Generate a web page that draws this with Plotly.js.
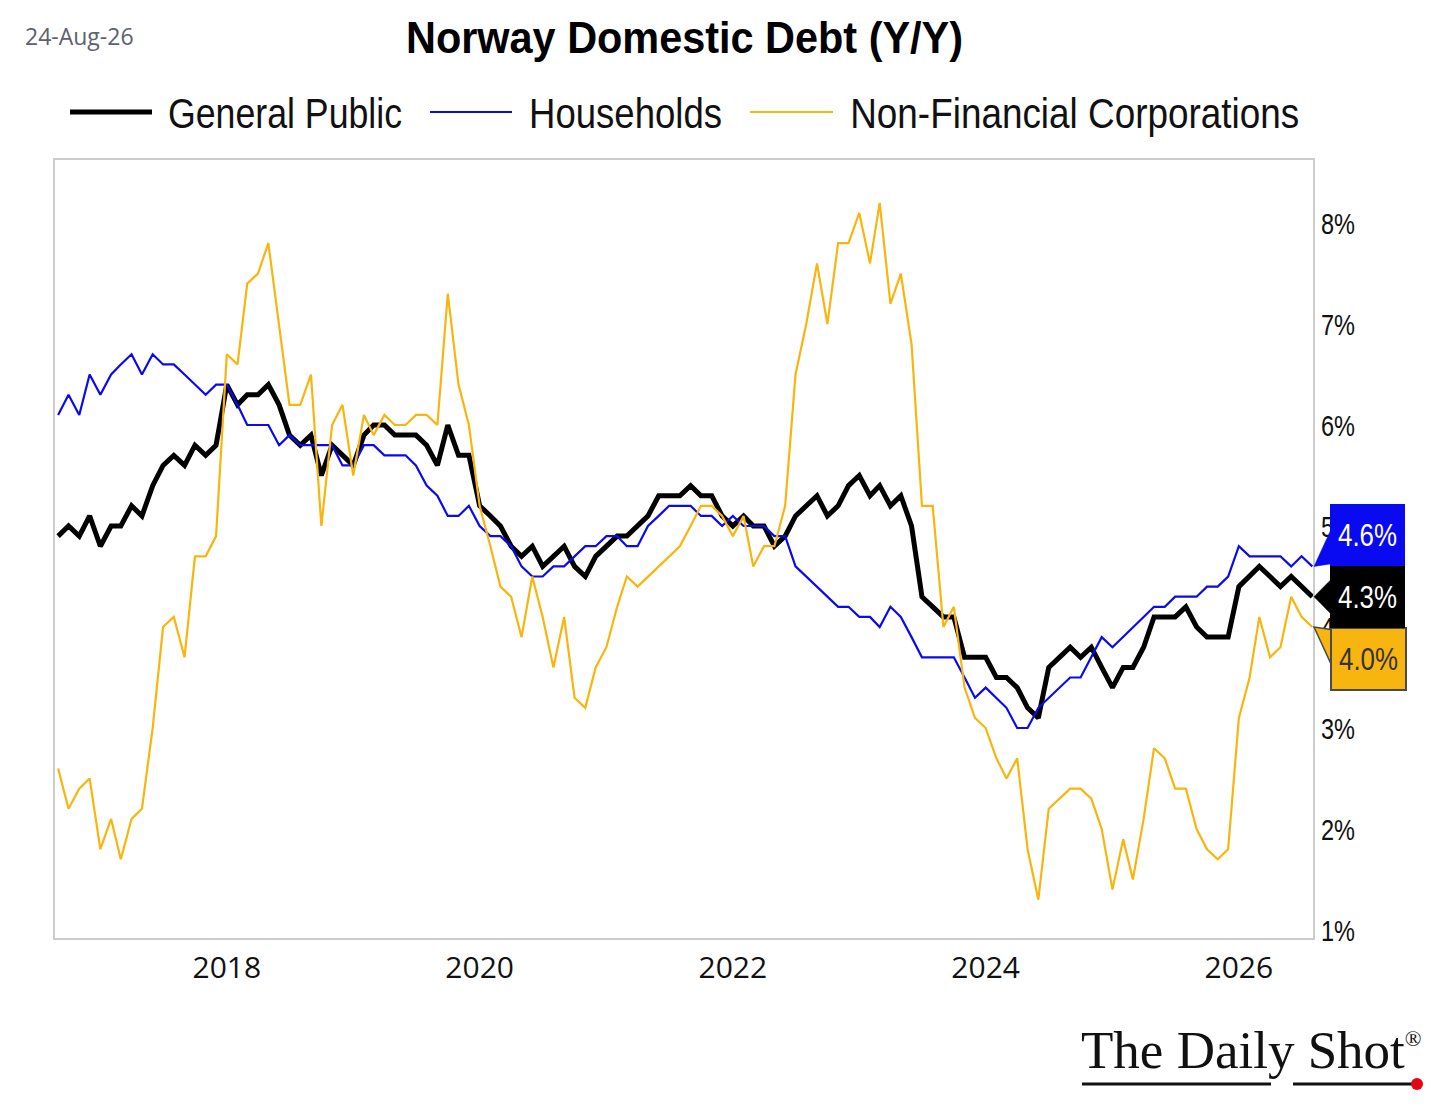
<!DOCTYPE html>
<html><head><meta charset="utf-8">
<script src="https://cdn.plot.ly/plotly-3.0.1.min.js"></script>
<style>
html,body{margin:0;padding:0;background:#fff;}
#chart{width:1456px;height:1114px;outline:2px solid #d0d0d0;outline-offset:-2px;}
</style></head><body><div id="chart"></div>
<script>
// ---------------- DATA ----------------
const firstMonth = {year: 2016, month: 9};   // monthly series, Sep-2016 .. Aug-2026
const seriesNames = ['General Public', 'Households', 'Non-Financial Corporations'];

const generalPublic = [
  4.9,5.0,4.9,5.1,4.8,5.0,5.0,5.2,5.1,5.4,5.6,5.7,5.6,5.8,5.7,5.8,6.4,6.2,6.3,6.3,6.4,6.2,5.9,5.8,5.9,
  5.5,5.8,5.7,5.6,5.9,6.0,6.0,5.9,5.9,5.9,5.8,5.6,6.0,5.7,5.7,5.2,5.1,5.0,4.8,4.7,4.8,4.6,4.7,4.8,
  4.6,4.5,4.7,4.8,4.9,4.9,5.0,5.1,5.3,5.3,5.3,5.4,5.3,5.3,5.1,5.0,5.1,5.0,5.0,4.8,4.9,5.1,5.2,5.3,
  5.1,5.2,5.4,5.5,5.3,5.4,5.2,5.3,5.0,4.3,4.2,4.1,4.1,3.7,3.7,3.7,3.5,3.5,3.4,3.2,3.1,3.6,3.7,
  3.8,3.7,3.8,3.6,3.4,3.6,3.6,3.8,4.1,4.1,4.1,4.2,4.0,3.9,3.9,3.9,4.4,4.5,4.6,4.5,4.4,4.5,4.4,4.3
];
const households = [
  6.1,6.3,6.1,6.5,6.3,6.5,6.6,6.7,6.5,6.7,6.6,6.6,6.5,6.4,6.3,6.4,6.4,6.2,6.0,6.0,6.0,5.8,5.9,5.8,5.8,
  5.8,5.8,5.6,5.6,5.8,5.8,5.7,5.7,5.7,5.6,5.4,5.3,5.1,5.1,5.2,5.0,4.9,4.9,4.8,4.6,4.5,4.5,4.6,4.6,
  4.7,4.8,4.8,4.9,4.9,4.8,4.8,5.0,5.1,5.2,5.2,5.2,5.1,5.1,5.0,5.1,5.0,5.0,5.0,4.9,4.9,4.6,4.5,4.4,
  4.3,4.2,4.2,4.1,4.1,4.0,4.2,4.1,3.9,3.7,3.7,3.7,3.7,3.5,3.3,3.4,3.3,3.2,3.0,3.0,3.2,3.3,3.4,
  3.5,3.5,3.7,3.9,3.8,3.9,4.0,4.1,4.2,4.2,4.3,4.3,4.3,4.4,4.4,4.5,4.8,4.7,4.7,4.7,4.7,4.6,4.7,4.6
];
const nonFinancialCorps = [
  2.6,2.2,2.4,2.5,1.8,2.1,1.7,2.1,2.2,3.0,4.0,4.1,3.7,4.7,4.7,4.9,6.7,6.6,7.4,7.5,7.8,7.0,6.2,6.2,6.5,
  5.0,6.0,6.2,5.5,6.1,5.9,6.1,6.0,6.0,6.1,6.1,6.0,7.3,6.4,6.0,5.2,4.8,4.4,4.3,3.9,4.5,4.1,3.6,4.1,
  3.3,3.2,3.6,3.8,4.2,4.5,4.4,4.5,4.6,4.7,4.8,5.0,5.2,5.2,5.1,4.9,5.1,4.6,4.8,4.8,5.2,6.5,7.0,7.6,
  7.0,7.8,7.8,8.1,7.6,8.2,7.2,7.5,6.8,5.2,5.2,4.0,4.2,3.4,3.1,3.0,2.7,2.5,2.7,1.8,1.3,2.2,2.3,
  2.4,2.4,2.3,2.0,1.4,1.9,1.5,2.1,2.8,2.7,2.4,2.4,2.0,1.8,1.7,1.8,3.1,3.5,4.1,3.7,3.8,4.3,4.1,4.0
];
const yTickValues = [1, 2, 3, 4, 5, 6, 7, 8];
const xTickYears = [2018, 2020, 2022, 2024, 2026];
const titleText = 'Norway Domestic Debt (Y/Y)';
const dateStamp = '24-Aug-26';
const brandText = 'The Daily Shot';

// ---------------- STYLE / LAYOUT ----------------
const W = 1456, H = 1114;
const M = {l: 55, r: 143, t: 160, b: 176};
const PW = W - M.l - M.r, PH = H - M.t - M.b;
const px2x = p => (p - M.l) / PW;
const px2y = p => (H - M.b - p) / PH;
const yRange = [0.921, 8.624];
const xRange = ['2016-08-23', '2026-08-03'];
const SANS = '"Liberation Sans", Arial, sans-serif';
const colors = ['#000000', '#0a0af0', '#f9b50f'];
const widths = [5, 2.2, 2.2];
const labelText = ['#ffffff', '#ffffff', '#333333'];
// condensed look: target rendered widths (px) of narrow texts
const legendSlots = [{x0: 70, x1: 152, cx: 285, w: 234}, {x0: 430, x1: 512, cx: 625.5, w: 193}, {x0: 750, x1: 833, cx: 1074.5, w: 449}];
const fitWidths = {};

function monthDates(n) {
  const out = [];
  for (let i = 0; i < n; i++) {
    const m0 = firstMonth.month - 1 + i;
    const y = firstMonth.year + Math.floor(m0 / 12);
    const m = (m0 % 12) + 1;
    out.push(y + '-' + String(m).padStart(2, '0') + '-01');
  }
  return out;
}
const seriesValues = [generalPublic, households, nonFinancialCorps];
const dates = monthDates(generalPublic.length);

const traces = seriesValues.map((vals, k) => ({
  type: 'scatter', mode: 'lines', x: dates, y: vals, name: seriesNames[k],
  line: {color: colors[k], width: widths[k], shape: 'linear'},
  hoverinfo: 'skip'
}));

const shapes = [], annotations = [];

// custom legend (long line samples)
const legendY = 112;
seriesNames.forEach((nm, k) => {
  const s = legendSlots[k];
  shapes.push({type: 'line', xref: 'paper', yref: 'paper', x0: px2x(s.x0), x1: px2x(s.x1),
    y0: px2y(legendY), y1: px2y(legendY), line: {color: colors[k], width: k === 0 ? 5 : 2.2}});
  annotations.push({xref: 'paper', yref: 'paper', x: px2x(s.cx), y: px2y(legendY + 1), xanchor: 'center', yanchor: 'middle',
    text: nm, showarrow: false, font: {family: SANS, size: 43, color: '#111'}});
  fitWidths[nm] = s.w;
});

// date stamp
annotations.push({xref: 'paper', yref: 'paper', x: px2x(23), y: px2y(36), xanchor: 'left', yanchor: 'middle',
  text: dateStamp, showarrow: false, font: {family: '"Open Sans", "Noto Sans", sans-serif', size: 23, color: '#5b6270'}});

// end-of-series value labels with de-overlap
const unitPerPx = (yRange[1] - yRange[0]) / PH;
const boxH = 62, boxW = 75, boxLeft = 1330;
const gap = boxH * unitPerPx;
const lastVals = seriesValues.map(v => v[v.length - 1]);
const order = lastVals.map((v, i) => i).sort((a, b) => lastVals[b] - lastVals[a]);
const pos = lastVals.slice();
for (let it = 0; it < 200; it++) {
  for (let j = 0; j < order.length - 1; j++) {
    const a = order[j], b = order[j + 1];
    const d = pos[a] - pos[b];
    if (d < gap) { const s = (gap - d) / 2; pos[a] += s; pos[b] -= s; }
  }
}
order.slice().reverse().forEach(k => {
  const tip = lastVals[k];
  const top = pos[k] + gap / 2, bot = pos[k] - gap / 2;
  const half = 0.18;
  const c = Math.min(Math.max(tip, bot + 0.2), top - 0.2);
  const wedge = `M ${px2x(1314)} ${tip} L ${px2x(1332)} ${c + half} L ${px2x(1332)} ${c - half} Z`;
  shapes.push({type: 'path', xref: 'paper', yref: 'y', path: wedge, fillcolor: colors[k], layer: 'above',
    line: {color: k === 2 ? '#4a4a4a' : colors[k], width: k === 2 ? 1.5 : 0.5}});
  const txt = lastVals[k].toFixed(1) + '%';
  annotations.push({xref: 'paper', yref: 'y', x: px2x(boxLeft), y: pos[k], xanchor: 'left', yanchor: 'middle',
    text: txt, showarrow: false, width: boxW - 2, height: boxH - 2, borderpad: 0,
    align: 'center', valign: 'middle', bgcolor: colors[k], bordercolor: k === 2 ? '#4a4a4a' : colors[k],
    borderwidth: k === 2 ? 2 : 1, font: {family: SANS, size: 31, color: labelText[k]}});
  fitWidths[txt] = 59;
});

// brand mark
annotations.push({xref: 'paper', yref: 'paper', x: px2x(1079), y: px2y(1050), xanchor: 'left', yanchor: 'middle',
  text: brandText + '<sup><span style="font-size:22px">®</span></sup>', showarrow: false,
  font: {family: '"Liberation Serif", "DejaVu Serif", serif', size: 53, color: '#111'}});
shapes.push({type: 'line', xref: 'paper', yref: 'paper', x0: px2x(1082), x1: px2x(1271), y0: px2y(1084), y1: px2y(1084), line: {color: '#111', width: 3}});
shapes.push({type: 'line', xref: 'paper', yref: 'paper', x0: px2x(1293), x1: px2x(1414), y0: px2y(1084), y1: px2y(1084), line: {color: '#111', width: 3}});
shapes.push({type: 'circle', xref: 'paper', yref: 'paper', x0: px2x(1411), x1: px2x(1423), y0: px2y(1078), y1: px2y(1090), fillcolor: '#e30613', line: {width: 0}});

const layout = {
  width: W, height: H, margin: M, showlegend: false, hovermode: false,
  paper_bgcolor: '#ffffff', plot_bgcolor: '#ffffff',
  title: {text: titleText, x: px2x(684.5), xref: 'paper', xanchor: 'center',
    y: 1 - 37 / H, yref: 'container', yanchor: 'middle',
    font: {family: SANS, size: 45, weight: 'bold', color: '#000'}},
  xaxis: {type: 'date', range: xRange, showgrid: false, zeroline: false,
    tickvals: xTickYears.map(y => y + '-01-01'), ticktext: xTickYears.map(String),
    ticks: '', ticklabelstandoff: 2, showline: true, mirror: true, linecolor: '#cccccc', linewidth: 2,
    tickfont: {family: '"Open Sans", "Noto Sans", sans-serif', size: 30, color: '#111'}},
  yaxis: {range: yRange, side: 'right', showgrid: false, zeroline: false,
    tickvals: yTickValues, ticktext: yTickValues.map(v => v + '%'),
    ticks: '', ticklabelstandoff: 0, showline: true, mirror: true, linecolor: '#cccccc', linewidth: 2,
    tickfont: {family: SANS, size: 30, color: '#111'}},
  shapes: shapes, annotations: annotations
};

function condense(el, w) {
  el.setAttribute('textLength', w);
  el.setAttribute('lengthAdjust', 'spacingAndGlyphs');
}
Plotly.newPlot('chart', traces, layout, {displayModeBar: false, staticPlot: true}).then(gd => {
  const t = gd.querySelector('text.gtitle');
  if (t) condense(t, 557);
  gd.querySelectorAll('text.annotation-text').forEach(el => {
    const w = fitWidths[el.textContent];
    if (w) condense(el, w);
  });
  gd.querySelectorAll('.ytick text').forEach(el => condense(el, 34));
});
</script></body></html>
